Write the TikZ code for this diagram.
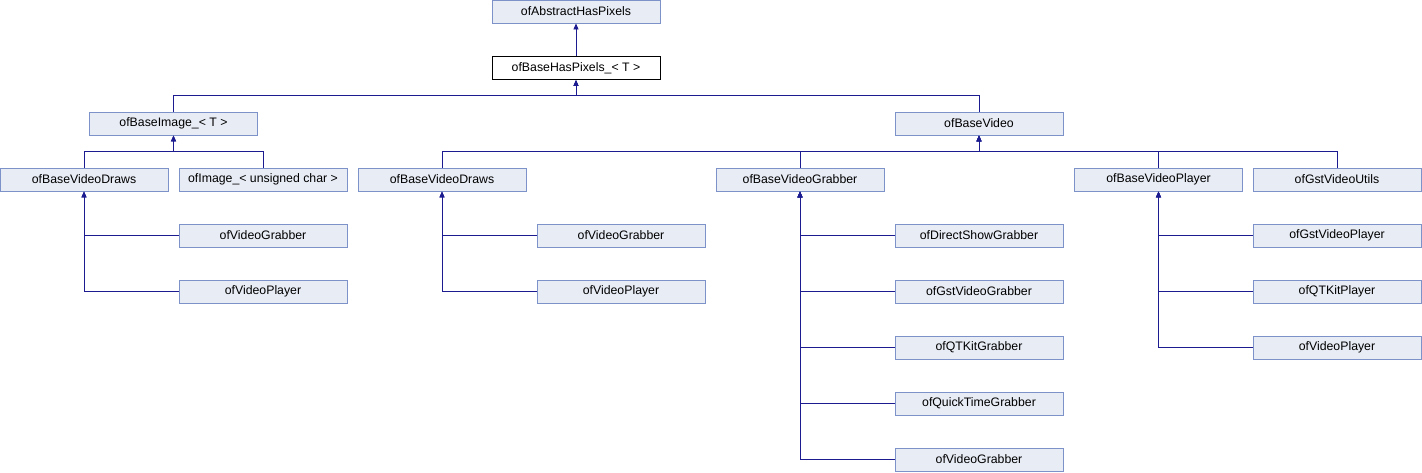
\documentclass[tikz,border=0pt]{standalone}
\usepackage{fontspec}
\setmainfont{Liberation Sans}
\usetikzlibrary{arrows.meta,positioning,calc}
\definecolor{edgeblue}{HTML}{1C1C90}
\definecolor{boxline}{HTML}{7C92C8}
\definecolor{boxfill}{HTML}{E8ECF5}
\tikzset{
  cls/.style={rectangle,draw=boxline,line width=0.9pt,fill=boxfill,align=center,minimum width=168pt,minimum height=23pt,inner sep=0pt,font=\fontsize{12.3}{14}\selectfont},
  clscur/.style={cls,draw=black,fill=white},
  inh/.style={-{Triangle[length=6pt,width=5pt]},line width=0.9pt,edgeblue}
}
\begin{document}
\begin{tikzpicture}[x=1pt,y=-1pt]
    \useasboundingbox (0,0) rectangle (1422,472);
    % top of the hierarchy
    \node[cls] (abs) at (576,11.5) {ofAbstractHasPixels};
    \node[clscur] (base) at (576,68) {ofBaseHasPixels\_< T >};
    \node[cls] (img) at (173.5,123.5) {ofBaseImage\_< T >};
    \node[cls] (vid) at (979,123.5) {ofBaseVideo};
    % third row
    \node[cls] (draws1) at (84,179.5) {ofBaseVideoDraws};
    \node[cls] (uchar) at (263,179.5) {ofImage\_< unsigned char >};
    \node[cls] (draws2) at (442,179.5) {ofBaseVideoDraws};
    \node[cls] (grab) at (800,179.5) {ofBaseVideoGrabber};
    \node[cls] (play) at (1158.5,179.5) {ofBaseVideoPlayer};
    \node[cls] (gstutils) at (1337,179.5) {ofGstVideoUtils};
    % leaves
    \node[cls] (vgrab1) at (263,235.5) {ofVideoGrabber};
    \node[cls] (vplay1) at (263,291.5) {ofVideoPlayer};
    \node[cls] (vgrab2) at (621,235.5) {ofVideoGrabber};
    \node[cls] (vplay2) at (621,291.5) {ofVideoPlayer};
    \node[cls] (dshow) at (979,235.5) {ofDirectShowGrabber};
    \node[cls] (gstgrab) at (979,291.5) {ofGstVideoGrabber};
    \node[cls] (qtkgrab) at (979,347.5) {ofQTKitGrabber};
    \node[cls] (qtgrab) at (979,403.5) {ofQuickTimeGrabber};
    \node[cls] (vgrab3) at (979,459.5) {ofVideoGrabber};
    \node[cls] (gstplay) at (1337,235.5) {ofGstVideoPlayer};
    \node[cls] (qtkplay) at (1337,291.5) {ofQTKitPlayer};
    \node[cls] (vplay3) at (1337,347.5) {ofVideoPlayer};
    % inheritance edges
    \draw[inh] (base) -- (abs);
    \foreach \c in {img,vid}
      \draw[inh] (\c.north) -- ++(0,-16) -| (base.south);
    \foreach \c in {draws1,uchar}
      \draw[inh] (\c.north) -- ++(0,-16) -| (img.south);
    \foreach \c in {draws2,grab,play,gstutils}
      \draw[inh] (\c.north) -- ++(0,-16) -| (vid.south);
    \foreach \c in {vgrab1,vplay1}
      \draw[inh] (\c.west) -| (draws1.south);
    \foreach \c in {vgrab2,vplay2}
      \draw[inh] (\c.west) -| (draws2.south);
    \foreach \c in {dshow,gstgrab,qtkgrab,qtgrab,vgrab3}
      \draw[inh] (\c.west) -| (grab.south);
    \foreach \c in {gstplay,qtkplay,vplay3}
      \draw[inh] (\c.west) -| (play.south);
\end{tikzpicture}
\end{document}
